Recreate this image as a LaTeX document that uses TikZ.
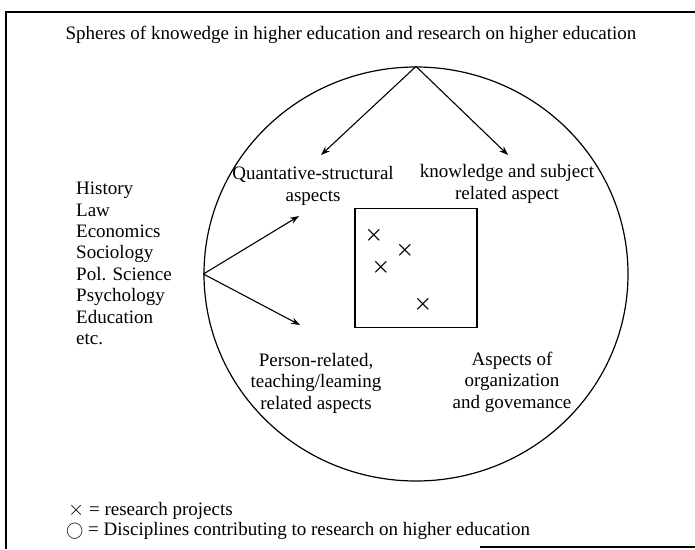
\documentclass[tikz,border=0pt]{standalone}
\usepackage{fontspec}
\setmainfont{Liberation Serif}
\usetikzlibrary{shapes.geometric, arrows.meta}
\begin{document}
\begin{tikzpicture}[x=1pt, y=-1pt,
    sphTextStyle/.style={align=center, font=\fontsize{19}{21.5}\selectfont, inner sep=0pt},
    sphListStyle/.style={align=left, font=\fontsize{19}{21.4}\selectfont, inner sep=0pt, anchor=north west},
    sphArrowStyle/.style={-{Stealth[length=9pt, width=6.5pt]}, line width=1.1pt},
    sphCrossStyle/.style={font=\fontsize{22}{22}\selectfont\boldmath, inner sep=0pt}]

    % Frame and bounding box
    \useasboundingbox (0, 0) rectangle (695, 549);
    \draw[line width=1.1pt] (695, 12) -- (6, 12) -- (6, 549);
    \draw[line width=1.1pt] (480, 547) -- (695, 547);

    \node[sphTextStyle] (title) at (351, 35) {Spheres of knowedge in higher education and research on higher education};
    \node[draw, ellipse, line width=1.2pt, minimum width=424pt, minimum height=414pt, inner sep=0pt] (sphere) at (416, 274) {};

    \node[sphTextStyle] (quant) at (313, 186) {Quantative-structural\\aspects};
    \node[sphTextStyle] (know) at (507, 184) {knowledge and subject\\related aspect};
    \node[sphTextStyle] (person) at (316, 383) {Person-related,\\teaching/leaming\\related aspects};
    \node[sphTextStyle] (organ) at (512, 382) {Aspects of\\organization\\and govemance};
    \node[sphListStyle] (disc) at (76, 182) {History\\Law\\Economics\\Sociology\\Pol. Science\\Psychology\\Education\\etc.};

    \node[draw, line width=1.1pt, minimum width=122pt, minimum height=119pt, inner sep=0pt] (proj) at (416, 268) {};
    \node[sphCrossStyle] (projA) at (374, 235) {$\times$};
    \node[sphCrossStyle] (projB) at (405, 250) {$\times$};
    \node[sphCrossStyle] (projC) at (381, 267) {$\times$};
    \node[sphCrossStyle] (projD) at (423, 304) {$\times$};

    \coordinate (quantTip) at (321, 155);
    \coordinate (knowTip) at (508, 155);
    \coordinate (upTip) at (299, 216);
    \coordinate (downTip) at (300, 325);

    \draw[sphArrowStyle] (sphere.north) -- (quantTip);
    \draw[sphArrowStyle] (sphere.north) -- (knowTip);
    \draw[sphArrowStyle] (sphere.west) -- (upTip);
    \draw[sphArrowStyle] (sphere.west) -- (downTip);

    \node[sphTextStyle, anchor=west] (legendX) at (68, 511) {{\fontsize{22}{22}\selectfont$\times$} = research projects};
    \node[sphTextStyle, anchor=west] (legendO) at (66, 531) {$\bigcirc$ = Disciplines contributing to research on higher education};
\end{tikzpicture}
\end{document}
